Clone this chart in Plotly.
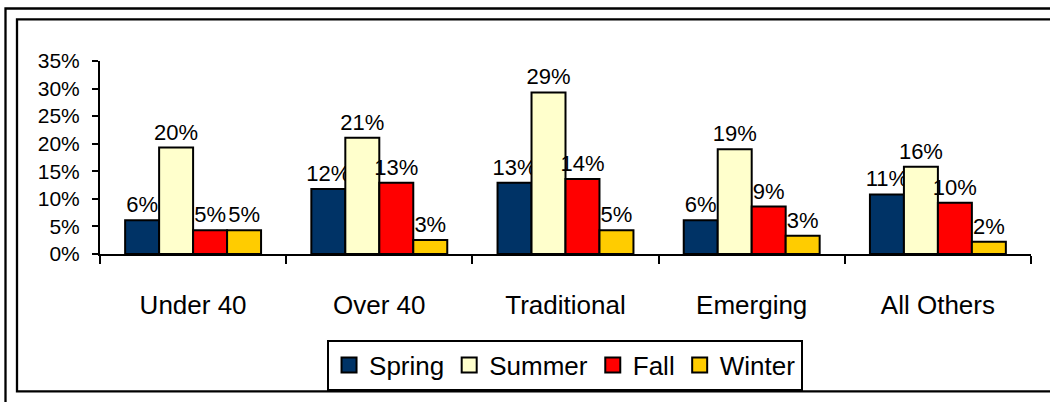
import plotly.graph_objects as go

categories = ["Under 40", "Over 40", "Traditional", "Emerging", "All Others"]
series_names = ["Spring", "Summer", "Fall", "Winter"]
spring = [6.1, 11.8, 12.9, 6.1, 10.8]
summer = [19.3, 21.1, 29.3, 19.0, 15.8]
fall = [4.3, 12.9, 13.6, 8.6, 9.3]
winter = [4.3, 2.55, 4.3, 3.3, 2.2]
spring_labels = ["6%", "12%", "13%", "6%", "11%"]
summer_labels = ["20%", "21%", "29%", "19%", "16%"]
fall_labels = ["5%", "13%", "14%", "9%", "10%"]
winter_labels = ["5%", "3%", "5%", "3%", "2%"]
y_ticks = [0, 5, 10, 15, 20, 25, 30, 35]

colors = ["#003366", "#FFFFCC", "#FF0000", "#FFCC00"]
values = [spring, summer, fall, winter]
labels = [spring_labels, summer_labels, fall_labels, winter_labels]

FONT = "Liberation Sans, Arial, sans-serif"

fig = go.Figure()
for name, vals, labs, col in zip(series_names, values, labels, colors):
    fig.add_trace(go.Bar(
        name=name,
        x=categories,
        y=[v / 100 for v in vals],
        text=labs,
        textposition="outside",
        constraintext="none",
        cliponaxis=False,
        textfont=dict(family=FONT, size=22, color="black"),
        marker=dict(color=col, line=dict(color="black", width=2)),
        hoverinfo="skip",
        showlegend=False,
    ))
# legend proxies (square swatches with outline)
for name, col in zip(series_names, colors):
    fig.add_trace(go.Scatter(
        name=name, x=[None], y=[None], mode="markers",
        marker=dict(symbol="square", size=15, color=col,
                    line=dict(color="black", width=2)),
        hoverinfo="skip",
    ))

W, H = 1050, 402
L, R, T, B = 100, 1031, 61, 257
pw, ph = R - L, B - T


def px(x):
    return (x - L) / pw


def py(y):
    return (B - y) / ph


shapes = [
    dict(type="rect", xref="paper", yref="paper",
         x0=px(5.5), x1=px(1070), y0=py(7.7), y1=py(420),
         line=dict(color="black", width=2.3), fillcolor="rgba(0,0,0,0)", layer="below"),
    dict(type="rect", xref="paper", yref="paper",
         x0=px(17), x1=px(1060), y0=py(18.7), y1=py(396.5),
         line=dict(color="black", width=2.3), fillcolor="rgba(0,0,0,0)", layer="below"),
]

fig.update_layout(
    width=W, height=H,
    margin=dict(l=L, r=W - R, t=T, b=H - B, pad=0),
    paper_bgcolor="white", plot_bgcolor="white",
    barmode="group", bargap=0.27, bargroupgap=0,
    font=dict(family=FONT, color="black"),
    showlegend=True,
    legend=dict(
        orientation="h", x=0.4995, xanchor="center", y=py(344), yanchor="top",
        bordercolor="black", borderwidth=2, bgcolor="white",
        font=dict(family=FONT, size=26, color="black"),
        itemsizing="trace", traceorder="normal",
    ),
    shapes=shapes,
    xaxis=dict(
        showline=True, linecolor="black", linewidth=2,
        ticks="outside", tickson="boundaries", ticklen=8, tickwidth=2, tickcolor="black",
        tickfont=dict(family=FONT, size=26, color="black"),
        ticklabelstandoff=27,
        showgrid=False, zeroline=False,
    ),
    yaxis=dict(
        range=[0, 0.35], tickvals=[t / 100 for t in y_ticks],
        ticktext=[f"{t}%" for t in y_ticks],
        showline=True, linecolor="black", linewidth=2,
        ticks="outside", ticklen=6, tickwidth=2, tickcolor="black",
        tickfont=dict(family=FONT, size=21, color="black"),
        ticklabelstandoff=8,
        showgrid=False, zeroline=False,
    ),
)

fig.write_html(
    "out.html",
    config={"displayModeBar": False},
    post_script="document.body.style.margin='0';document.body.style.overflow='hidden';",
)
